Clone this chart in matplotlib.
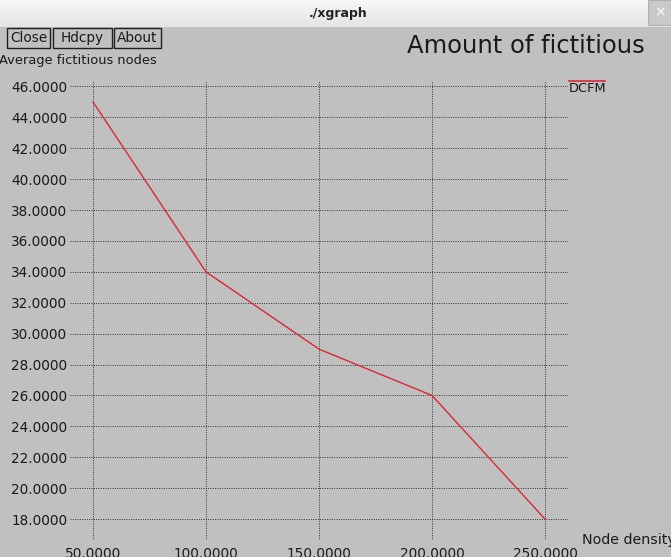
import matplotlib
matplotlib.use("Agg")
import matplotlib.pyplot as plt
from matplotlib.patches import Rectangle
import numpy as np

# ---- data ----
node_density = [50, 100, 150, 200, 250]
dcfm_values = [45, 34, 29, 26, 18]
x_ticks = [50, 100, 150, 200, 250]
y_ticks = [18, 20, 22, 24, 26, 28, 30, 32, 34, 36, 38, 40, 42, 44, 46]
series_name = "DCFM"
title_text = "Amount of fictitious"
y_label_text = "Average fictitious nodes"
x_label_text = "Node density"
window_title = "./xgraph"
buttons = ["Close", "Hdcpy", "About"]

W, H = 671, 557
BG = "#c0c0c0"
RED = "#d82838"
TXT = "#1a1a1a"

plt.rcParams['font.family'] = ['DejaVu Sans']
fig = plt.figure(figsize=(W / 100, H / 100), dpi=100, facecolor=BG)


def fx(x):
    return x / W


def fy(y):
    return 1 - y / H


# ---- window title bar ----
tb = fig.add_axes([0, fy(27), 1, 27 / H])
grad = np.linspace(0, 1, 27).reshape(-1, 1)
tb.imshow(grad, aspect='auto', cmap=matplotlib.colors.LinearSegmentedColormap.from_list(
    'g', ['#f7f7f7', '#e4e4e4']), extent=[0, 1, 0, 1])
tb.set_axis_off()
fig.text(fx(338), fy(13), window_title, fontsize=9, fontweight='bold',
         ha='center', va='center', color='#222222')
fig.patches.append(Rectangle((fx(648), fy(25)), 23 / W, 25 / H, transform=fig.transFigure,
                             facecolor='#c9c9c9', edgecolor='#b0b0b0', lw=0.8))
fig.text(fx(660), fy(12), "×", fontsize=10, ha='center', va='center', color='white')

# ---- buttons ----
btn_boxes = [(7, 50), (53, 112), (114, 161)]
for label, (x0, x1) in zip(buttons, btn_boxes):
    fig.patches.append(Rectangle((fx(x0), fy(48)), (x1 - x0) / W, 20 / H,
                                 transform=fig.transFigure, facecolor=BG,
                                 edgecolor='#202020', lw=1.0))
    fig.text(fx((x0 + x1) / 2), fy(38), label, fontsize=9.8, ha='center',
             va='center', color=TXT)

# ---- titles / labels ----
fig.text(fx(407), fy(46), title_text, fontsize=17.5, ha='left', va='center',
         color=TXT)
fig.text(fx(-1), fy(61), y_label_text, fontsize=9.4, ha='left', va='center',
         color=TXT)
fig.text(fx(582), fy(540), x_label_text, fontsize=10.3, ha='left', va='center',
         color=TXT)

# ---- plot axes ----
ax = fig.add_axes([fx(70), fy(540), (568 - 70) / W, (540 - 81) / H])
ax.set_facecolor(BG)
for s in ax.spines.values():
    s.set_visible(False)
ax.set_xlim(50 - 23 / 2.26, 250 + 23 / 2.26)
ax.set_ylim(18 - 21 / 15.5, 46 + 5.5 / 15.5)
ax.set_xticks(x_ticks)
ax.set_yticks(y_ticks)
ax.set_xticklabels([f"{v:.4f}" for v in x_ticks])
ax.set_yticklabels([f"{v:.4f}" for v in y_ticks])
ax.tick_params(axis='both', length=0, labelsize=9.8, labelcolor=TXT)
ax.tick_params(axis='x', pad=5)
ax.tick_params(axis='y', pad=2)
ax.grid(True, color='#303030', linestyle=(0, (1, 1.4)), linewidth=0.7)
ax.set_axisbelow(True)

ax.plot(node_density, dcfm_values, color=RED, lw=1.0, zorder=3)

# legend
fig.lines.append(matplotlib.lines.Line2D([fx(569), fx(605)], [fy(81), fy(81)],
                                         transform=fig.transFigure, color=RED, lw=1.2))
fig.text(fx(569), fy(88), series_name, fontsize=9.4, ha='left', va='center',
         color=TXT)

fig.savefig("out.png", dpi=100, facecolor=BG)
